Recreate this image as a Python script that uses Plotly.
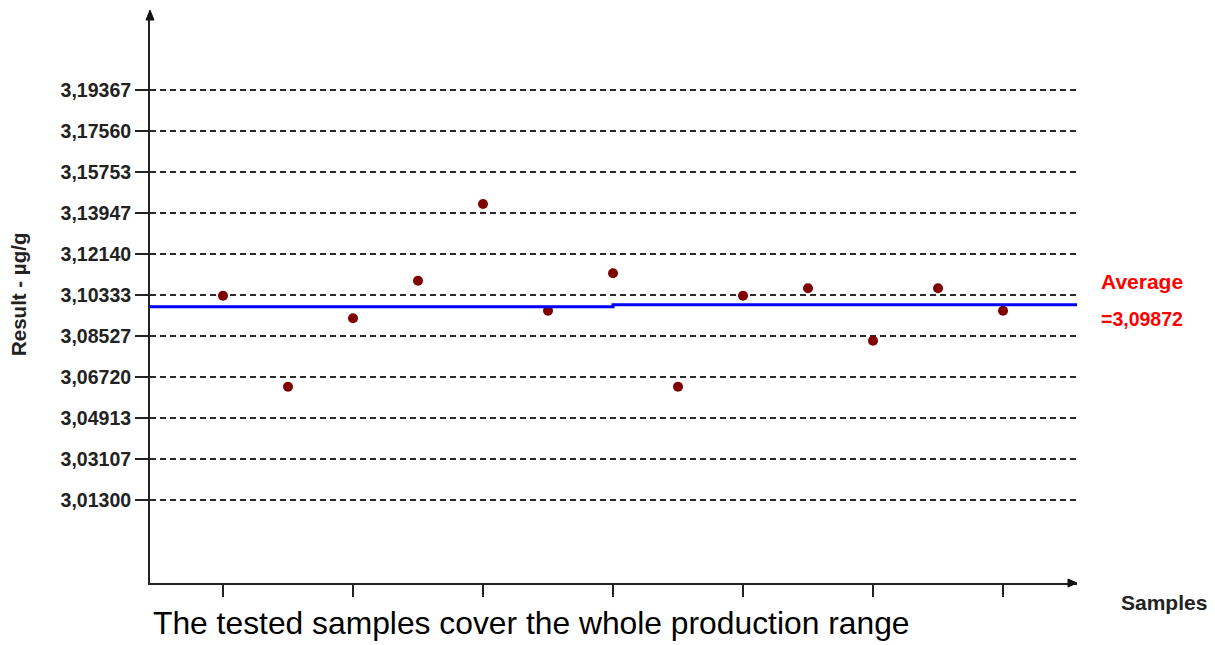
import plotly.graph_objects as go

# ---- data ----
sample_index = list(range(13))
results = [3.10303, 3.06293, 3.09307, 3.10964, 3.14343, 3.09642, 3.11290,
           3.06293, 3.10303, 3.10629, 3.08320, 3.10629, 3.09642]
avg_left = 3.09817      # average line, first part
avg_right = 3.09906     # average line, second part
avg_step_at = 6         # sample index where the average line steps
avg_label = "=3,09872"
y_tickvals = [3.01300, 3.03107, 3.04913, 3.06720, 3.08527, 3.10333,
              3.12140, 3.13947, 3.15753, 3.17560, 3.19367]
y_ticktext = ["3,01300", "3,03107", "3,04913", "3,06720", "3,08527", "3,10333",
              "3,12140", "3,13947", "3,15753", "3,17560", "3,19367"]
x_tickvals = [0, 2, 4, 6, 8, 10, 12]

# ---- layout geometry (pixels) ----
W, H = 1215, 645
L, R, T, B = 150, 1077, 15, 583
pw, ph = R - L, B - T
x_range = [-1.1231, 13.138]
y_range = [2.976424, 3.22672]

FONT = "Liberation Sans, Arial, sans-serif"
DARK = "#222222"

fig = go.Figure()
fig.add_trace(go.Scatter(
    x=sample_index, y=results, mode="markers",
    marker=dict(symbol="circle", size=10, color="#800000", line=dict(width=0)),
    hoverinfo="x+y"))
fig.add_trace(go.Scatter(
    x=[x_range[0], avg_step_at, avg_step_at, x_range[1]],
    y=[avg_left, avg_left, avg_right, avg_right],
    mode="lines", line=dict(color="#0000FF", width=3)))

fig.update_xaxes(range=x_range, showgrid=False, zeroline=False,
                 showline=True, linecolor=DARK, linewidth=2,
                 tickmode="array", tickvals=x_tickvals, showticklabels=False,
                 ticks="outside", ticklen=12, tickwidth=1.5, tickcolor=DARK)
fig.update_yaxes(range=y_range, zeroline=False,
                 showline=True, linecolor=DARK, linewidth=2,
                 tickmode="array", tickvals=y_tickvals, ticktext=y_ticktext,
                 ticks="outside", ticklen=13, tickwidth=1.5, tickcolor=DARK,
                 tickfont=dict(family=FONT, size=19.5, color=DARK, weight="bold"),
                 showgrid=True, gridcolor="#2a2a2a", gridwidth=1.5, griddash="6px,4px")

def px(x):
    return (x - L) / pw

def py(y):
    return (B - y) / ph

ann = [
    dict(text="Average", x=px(1099), y=py(281.5), xanchor="left", yanchor="middle",
         font=dict(family=FONT, size=21, color="#FF0000", weight="bold")),
    dict(text=avg_label, x=px(1099), y=py(318.5), xanchor="left", yanchor="middle",
         font=dict(family=FONT, size=19.5, color="#FF0000", weight="bold")),
    dict(text="Samples", x=px(1119), y=py(602), xanchor="left", yanchor="middle",
         font=dict(family=FONT, size=21, color=DARK, weight="bold")),
    dict(text="Result - µg/g", x=px(18), y=py(295), xanchor="center", yanchor="middle",
         textangle=-90, font=dict(family=FONT, size=20.5, color=DARK, weight="bold")),
    dict(text="The tested samples cover the whole production range",
         x=px(151), y=py(622.5), xanchor="left", yanchor="middle",
         font=dict(family=FONT, size=31.8, color="#000000")),
]
for a in ann:
    a.update(xref="paper", yref="paper", showarrow=False)

# axis arrow heads
shapes = [
    dict(type="path", xref="paper", yref="paper", xsizemode="pixel", ysizemode="pixel",
         xanchor=0, yanchor=1,
         path="M -4,-5 L 0,5 L 4,-5 Z", fillcolor="#111111", line=dict(color="#111111", width=1)),
    dict(type="path", xref="paper", yref="paper", xsizemode="pixel", ysizemode="pixel",
         xanchor=1, yanchor=0,
         path="M -9,-4 L 0,0 L -9,4 Z", fillcolor="#111111", line=dict(color="#111111", width=1)),
]

fig.update_layout(width=W, height=H, margin=dict(l=L, r=W - R, t=T, b=H - B),
                  plot_bgcolor="white", paper_bgcolor="white", showlegend=False,
                  annotations=ann, shapes=shapes)
fig.write_html("out.html")
